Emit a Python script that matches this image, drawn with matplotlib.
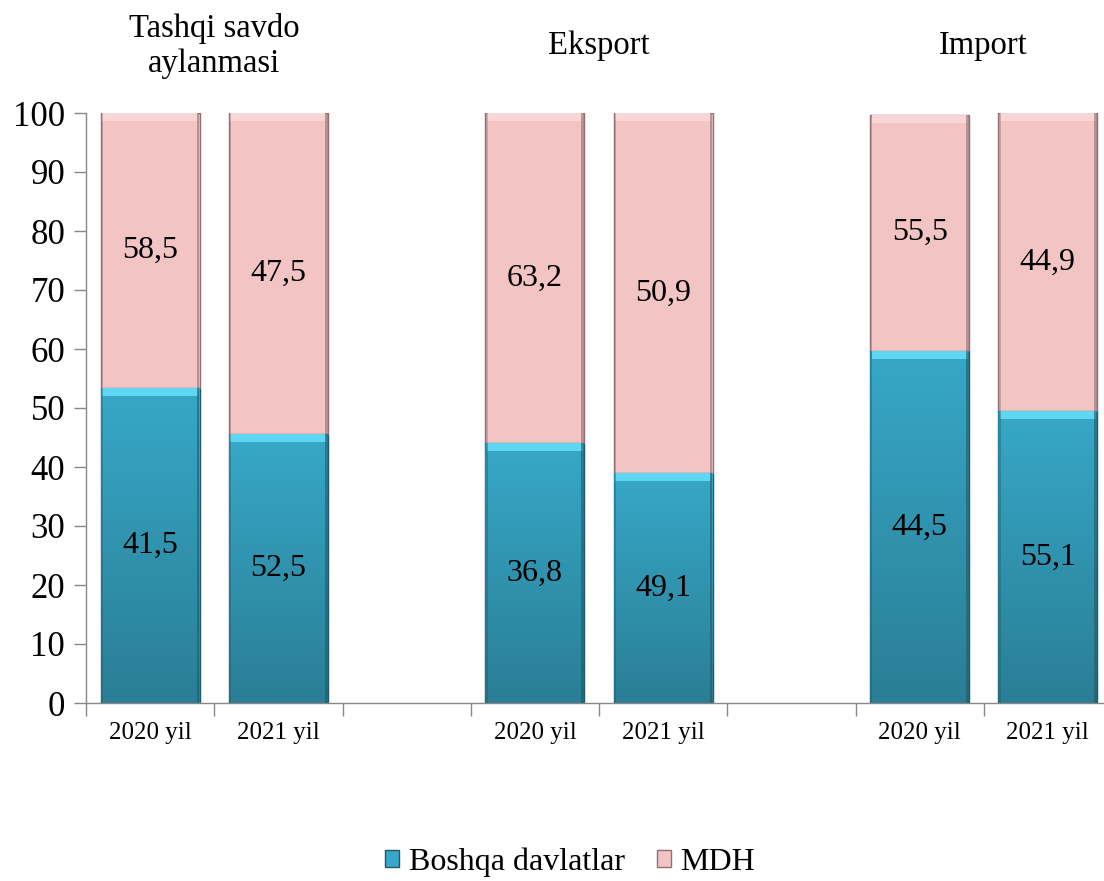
import matplotlib
matplotlib.use("Agg")
import matplotlib.pyplot as plt
import numpy as np
from matplotlib.patches import Patch
from matplotlib.colors import LinearSegmentedColormap

plt.rcParams['font.family'] = ['Liberation Serif', 'DejaVu Serif']

# ---- data ----
categories = ["2020 yil", "2021 yil", "", "2020 yil", "2021 yil", "", "2020 yil", "2021 yil"]
bar_slots = [0, 1, 3, 4, 6, 7]
group_titles = ["Tashqi savdo\naylanmasi", "Eksport", "Import"]
# bar heights as drawn in the picture
boshqa_height = [53.4, 45.6, 44.1, 39.0, 59.7, 49.5]
mdh_height = [46.6, 54.4, 55.9, 61.0, 40.0, 50.5]
# data label texts as printed in the picture
boshqa_labels = ["41,5", "52,5", "36,8", "49,1", "44,5", "55,1"]
mdh_labels = ["58,5", "47,5", "63,2", "50,9", "55,5", "44,9"]
series_names = ["Boshqa davlatlar", "MDH"]

BLUE_TOP = "#37A8C8"
BLUE_BOT = "#2A7E95"
BLUE_EDGE = "#1E5A6A"
BLUE_CAP = "#5FD6F2"
PINK = "#F3C4C4"
PINK_EDGE = "#8E7070"
PINK_CAP = "#F8D6D6"

fig = plt.figure(figsize=(11.04, 8.81), dpi=100)
ax = fig.add_axes([86/1104, (881-703)/881, 1026/1104, 590/881])

x = np.array(bar_slots, dtype=float)
w = 0.77
b_h = np.array(boshqa_height)
m_h = np.array(mdh_height)

grad = np.linspace(0, 1, 256).reshape(-1, 1)
cmap_b = LinearSegmentedColormap.from_list("b", [BLUE_BOT, BLUE_TOP])

bars_b = ax.bar(x, b_h, w, color=BLUE_TOP, edgecolor=BLUE_EDGE, linewidth=1.0, zorder=2)
for bar in bars_b:
    x0, y0 = bar.get_x(), bar.get_y()
    x1, y1 = x0 + bar.get_width(), y0 + bar.get_height()
    im = ax.imshow(grad, extent=[x0, x1, y0, y1], origin="lower", cmap=cmap_b,
                   aspect="auto", zorder=2.1)
    im.set_clip_path(bar)
bars_m = ax.bar(x, m_h, w, bottom=b_h, color=PINK, edgecolor=PINK_EDGE, linewidth=1.0, zorder=2)

# bevel caps and side shading
cap = 1.4
ax.bar(x, cap, w * 0.97, bottom=b_h - cap, color=BLUE_CAP, linewidth=0, zorder=3)
ax.bar(x, cap, w * 0.97, bottom=b_h + m_h - cap, color=PINK_CAP, linewidth=0, zorder=3)
ax.bar(x + w/2 - 0.012, b_h, 0.022, color=BLUE_EDGE, alpha=0.6, linewidth=0, zorder=3)
ax.bar(x + w/2 - 0.012, m_h, 0.022, bottom=b_h, color=PINK_EDGE, alpha=0.6, linewidth=0, zorder=3)
ax.bar(x - w/2 + 0.008, b_h, 0.016, color=BLUE_EDGE, alpha=0.4, linewidth=0, zorder=3)
ax.bar(x - w/2 + 0.008, m_h, 0.016, bottom=b_h, color=PINK_EDGE, alpha=0.4, linewidth=0, zorder=3)

for xi, h, lab in zip(x, b_h, boshqa_labels):
    ax.text(xi, h / 2, lab, ha="center", va="center", fontsize=23, zorder=5)
for xi, hb, hm, lab in zip(x, b_h, m_h, mdh_labels):
    ax.text(xi, hb + hm / 2, lab, ha="center", va="center", fontsize=23, zorder=5)

ax.set_xlim(-0.5, 7.5)
ax.set_ylim(0, 100)
ax.set_yticks(np.arange(0, 101, 10))
ax.tick_params(axis="y", labelsize=25, length=9, color="#888888", width=1, pad=6)
ax.set_xticks(np.arange(len(categories)))
ax.set_xticklabels(categories, fontsize=18)
ax.set_xticks(np.arange(-0.5, 8.0, 1.0), minor=True)
ax.tick_params(axis="x", which="major", length=0, pad=14)
ax.tick_params(axis="x", which="minor", length=9, color="#888888", width=1)
for s in ["top", "right"]:
    ax.spines[s].set_visible(False)
for s in ["left", "bottom"]:
    ax.spines[s].set_color("#888888")
    ax.spines[s].set_linewidth(1)

# group titles
group_centers = [(x[0] + x[1]) / 2, (x[2] + x[3]) / 2, (x[4] + x[5]) / 2]
for gc, t in zip(group_centers, group_titles):
    ax.text(gc, 1.0 + 67/590, t, transform=ax.get_xaxis_transform(), ha="center",
            va="center", fontsize=23.5, linespacing=1.15)

handles = [Patch(facecolor=BLUE_TOP, edgecolor=BLUE_EDGE), Patch(facecolor=PINK, edgecolor=PINK_EDGE)]
fig.legend(handles, series_names, loc="center", bbox_to_anchor=(570/1104, 1 - 862/881),
           ncol=2, frameon=False, fontsize=23, handlelength=0.45, handleheight=0.45,
           handletextpad=0.3, columnspacing=1.0)

fig.savefig("out.png", dpi=100)
